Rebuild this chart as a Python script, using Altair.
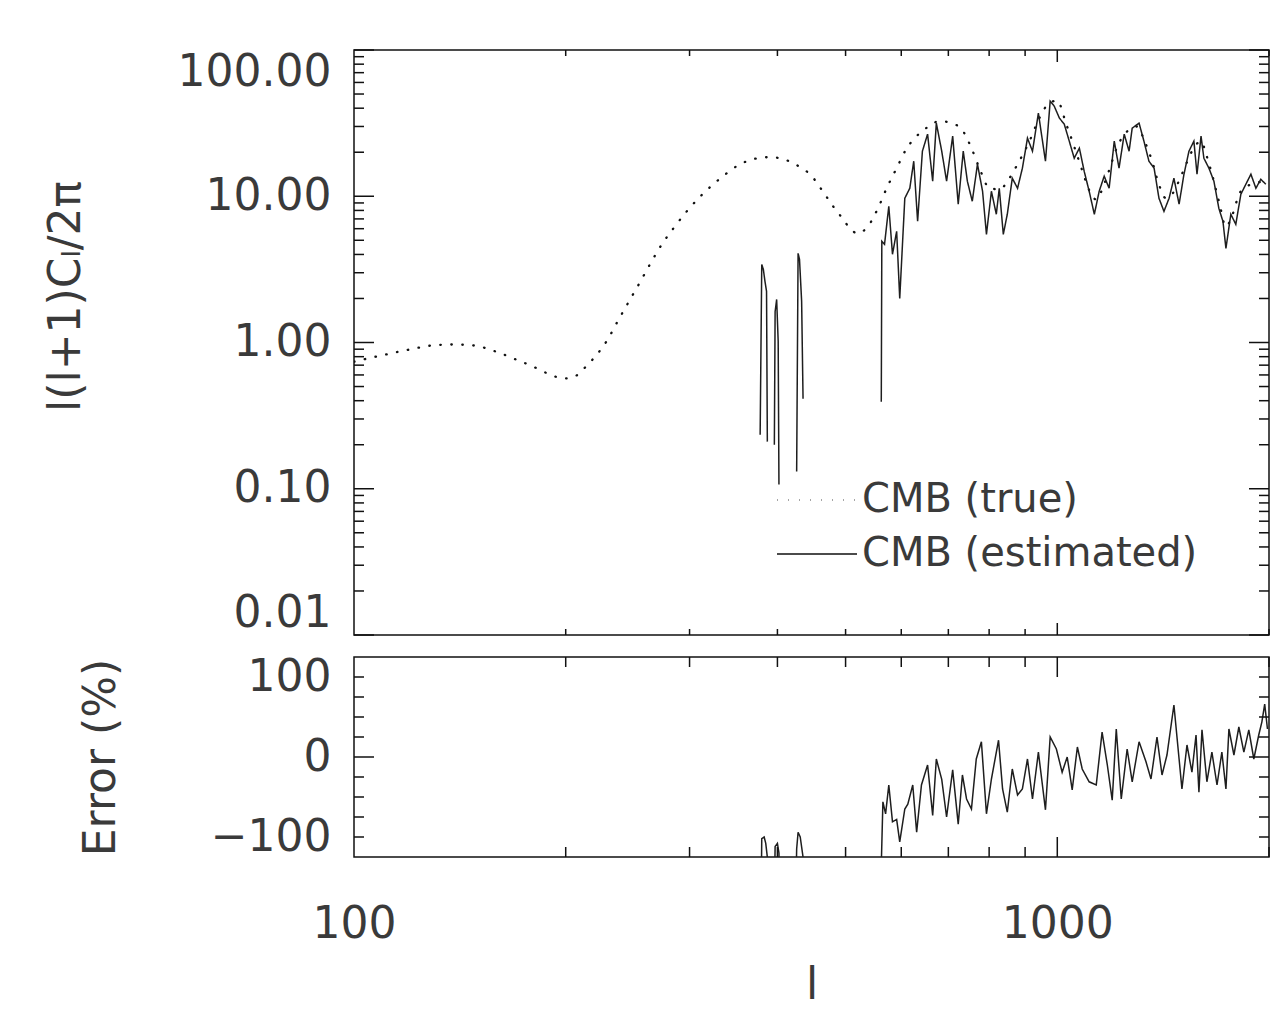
import altair as alt
import pandas as pd

# ---- data ----
TRUE_L = [100, 103, 111, 120, 129, 138, 148, 159, 170, 181, 190, 199, 207, 213, 219, 229, 237, 246,
          255, 264, 274, 286, 299, 314, 332, 352, 375, 390, 403, 431, 445, 464, 480, 496, 507, 520,
          538, 556, 572, 591, 611, 627, 654, 680, 707, 731, 755, 775, 801, 828, 855, 878, 913, 943,
          974, 1000, 1030, 1060, 1085, 1110, 1136, 1165, 1190, 1213, 1250, 1299, 1330, 1364, 1395,
          1427, 1460, 1489, 1520, 1554, 1601, 1630, 1659, 1700, 1736, 1775, 1813, 1850, 1891, 1940, 2000]
TRUE_D = [0.74, 0.765, 0.828, 0.896, 0.954, 0.969, 0.954, 0.868, 0.765, 0.674, 0.604, 0.567, 0.594,
          0.674, 0.777, 1.032, 1.392, 1.909, 2.576, 3.476, 4.691, 6.23, 8.147, 10.48, 13.28, 16.31,
          18.21, 18.5, 18.21, 15.8, 14.15, 10.82, 8.54, 6.96, 6.04, 5.58, 6.23, 8.28, 11.34, 15.55,
          21.32, 24.96, 29.7, 32.64, 31.62, 28.76, 21.32, 15.55, 11.34, 11.16, 13.28, 16.56, 23.81,
          34.21, 43.35, 45.0, 31.0, 21.0, 15.0, 11.0, 9.5, 12.0, 16.0, 21.0, 27.0, 30.0, 24.0, 17.4,
          12.0, 9.7, 10.5, 12.7, 16.0, 20.3, 23.8, 19.0, 14.2, 9.0, 6.2, 7.5, 10.3, 11.5, 12.1, 12.5, 13.0]

# None marks a break (estimate below zero, not drawn on the log axis)
EST_L = [378, 380, 382, 384, 386, 387, None,
         396, 397, 399, 401, 402, None,
         426, 428, 430, 433, 435, None,
         562, 563, 568, 576, 583, 591, 597, 607, 617, 625, 633, 643, 654, 665, 673, 685, 696, 710,
         723, 735, 745, 757, 770, 783, 793, 806, 819, 827, 838, 849, 863, 878, 892, 907, 922, 940,
         962, 977, 990, 1007, 1023, 1040, 1057, 1075, 1092, 1110, 1129, 1147, 1166, 1185, 1205,
         1224, 1245, 1265, 1278, 1307, 1328, 1350, 1373, 1395, 1418, 1442, 1465, 1490, 1514, 1539,
         1564, 1580, 1601, 1616, 1643, 1670, 1697, 1720, 1737, 1765, 1794, 1824, 1854, 1885, 1916,
         1947, 1979]
EST_D = [0.234, 3.42, 3.16, 2.62, 2.24, 0.210, None,
         0.200, 1.63, 1.97, 1.016, 0.107, None,
         0.131, 4.07, 3.70, 1.91, 0.413, None,
         0.394, 4.92, 4.69, 8.54, 4.01, 5.76, 2.00, 9.69, 11.34, 17.36, 6.74, 20.33, 26.59, 12.67,
         31.62, 20.33, 12.67, 25.76, 8.82, 20.33, 12.67, 9.24, 16.56, 10.82, 5.49, 10.82, 7.53,
         11.34, 5.49, 7.53, 13.28, 11.34, 15.55, 24.96, 20.33, 37.03, 17.36, 44.75, 41.35, 34.21,
         31.13, 23.81, 18.21, 21.32, 14.84, 10.82, 7.53, 10.82, 13.71, 11.34, 23.81, 15.55, 26.59,
         20.33, 29.23, 31.62, 23.81, 17.36, 15.55, 9.69, 7.89, 9.69, 13.28, 8.82, 14.15, 20.33,
         23.81, 14.15, 25.76, 18.21, 15.55, 12.67, 8.28, 6.74, 4.40, 7.53, 6.43, 10.32, 12.08,
         14.15, 11.34, 13.07, 12.08]

ERR_L = [370, 378, 380, 383, 385, 387, 390, 394, 397, 400, 402, 405, 422, 426, 428, 431, 435, 440,
         555, 562, 565, 570, 576, 583, 591, 597, 607, 613, 623, 631, 641, 654, 665, 673, 685, 696,
         710, 723, 733, 743, 755, 767, 780, 793, 806, 825, 836, 849, 863, 878, 892, 907, 922, 940,
         962, 977, 997, 1016, 1033, 1050, 1068, 1085, 1110, 1136, 1158, 1178, 1197, 1213, 1233,
         1257, 1278, 1307, 1337, 1359, 1386, 1409, 1432, 1465, 1490, 1504, 1529, 1554, 1575, 1590,
         1606, 1632, 1659, 1687, 1714, 1737, 1754, 1783, 1812, 1842, 1872, 1903, 1934, 1954, 1972, 1990]
ERR_V = [-300, -300, -102, -100, -108, -125, -300, -300, -112, -108, -120, -300, -300, -115, -94,
         -100, -125, -300, -300, -135, -56, -71, -35, -81, -78, -106, -65, -59, -35, -94, -35, -10,
         -73, -2.5, -28, -75, -16, -84, -22.5, -52.5, -65, -2.5, 19, -71, -27.5, 21, -40, -69, -15,
         -47.5, -40, -2.5, -52.5, 6, -66, 25, 10, -19, 0, -41, 12.5, -15, -31, -35, 31, -10, -54,
         35, -52.5, 10, -31, 19, -6, -27.5, 25, -22.5, 2.5, 65, -2.5, -40, 15, -19, 27.5, -44, 34,
         -31, 6, -35, 6, -40, 35, 2.5, 37.5, 6, 34, -2.5, 27.5, 44, 66, 35]

SERIES = ["CMB (true)", "CMB (estimated)"]

# tick positions
X_MINOR = [200, 300, 400, 500, 600, 700, 800, 900, 2000]
X_MAJOR = [1000]
Y1_MAJOR = [0.01, 0.1, 1, 10, 100]
Y1_MINOR = [m * d for d in [0.01, 0.1, 1, 10] for m in [2, 3, 4, 5, 6, 7, 8, 9]]
Y2_MAJOR = [0]
Y2_MINOR = [-100, -75, -50, -25, 25, 50, 75, 100]

# ---- build tables ----
def segmented(ls, ds, name):
    rows, seg = [], 0
    for l, d in zip(ls, ds):
        if l is None or d is None:
            seg += 1
            continue
        rows.append({"l": l, "D": d, "seg": seg, "series": name})
    return pd.DataFrame(rows)

true_df = pd.DataFrame({"l": TRUE_L, "D": TRUE_D, "series": SERIES[0]})
est_df = segmented(EST_L, EST_D, SERIES[1])
err_df = pd.DataFrame({"l": ERR_L, "E": ERR_V})

W, H1, H2 = 915, 585, 200
FONT = "DejaVu Sans"
TXT = "#3a3a3a"
INK = "#111111"
LINE = "#1e1e1e"

XS = alt.Scale(type="log", domain=[100, 2000], nice=False)
YS1 = alt.Scale(type="log", domain=[0.01, 100], nice=False)
YS2 = alt.Scale(type="linear", domain=[-125, 125], nice=False, zero=False)

common_axis = dict(ticks=False, domain=False, grid=False, labelFont=FONT, labelFontSize=44,
                   labelColor=TXT, labelOverlap=False,
                   titleFont=FONT, titleFontSize=44, titleColor=TXT, titleFontWeight="normal")

AX_Y1 = alt.Axis(values=Y1_MAJOR, format=".2f", labelPadding=23, labelFlush=True,
                 title="l(l+1)Cₗ/2π",
                 titleX=-288, titleY=246, titleBaseline="middle", titleAlign="center",
                 titleAngle=270, **common_axis)
AX_Y2 = alt.Axis(values=[-100, 0, 100], format="d", labelPadding=23, labelFlush=True,
                 title="Error (%)",
                 titleX=-253, titleY=100, titleBaseline="middle", titleAlign="center",
                 titleAngle=270, **common_axis)
AX_X2 = alt.Axis(values=[100, 1000], format="d", labelPadding=45, labelFlush=False, title="l",
                 titlePadding=17, **common_axis)

# legend: an 80px line sample drawn with a custom path on a 40px nominal symbol
dash = alt.StrokeDash(
    "series:N",
    scale=alt.Scale(domain=SERIES, range=[[0.5, 10.5], [1, 0]]),
    legend=alt.Legend(title=None, orient="none", legendX=442, legendY=429,
                      symbolType="M-2,0H2", symbolSize=1600, symbolStrokeWidth=1.6,
                      symbolStrokeColor=INK, symbolFillColor="transparent",
                      labelFont=FONT, labelFontSize=40,
                      labelColor=TXT, labelOffset=24, rowPadding=13,
                      padding=0, labelLimit=600),
)


def ticks(values, field, scale, axis, side, length, width, height):
    df = pd.DataFrame({field: values})
    m = alt.Chart(df).mark_rule(color=INK, strokeWidth=1.5)
    if side in ("top", "bottom"):
        x = alt.X(f"{field}:Q", scale=scale, axis=axis)
        if side == "top":
            return m.encode(x=x, y=alt.value(0), y2=alt.value(length))
        return m.encode(x=x, y=alt.value(height), y2=alt.value(height - length))
    y = alt.Y(f"{field}:Q", scale=scale, axis=axis)
    if side == "left":
        return m.encode(y=y, x=alt.value(0), x2=alt.value(length))
    return m.encode(y=y, x=alt.value(width), x2=alt.value(width - length))


# ---- top panel ----
xe_top = alt.X("l:Q", scale=XS, axis=None)
ye_top = alt.Y("D:Q", scale=YS1, axis=AX_Y1)

true_line = alt.Chart(true_df).mark_line(
    color=INK, strokeWidth=2.3, strokeCap="round", interpolate="monotone", clip=True
).encode(x=xe_top, y=ye_top, strokeDash=dash)

est_line = alt.Chart(est_df).mark_line(color=LINE, strokeWidth=1.5, clip=True).encode(
    x=xe_top, y=ye_top, strokeDash=dash, detail="seg:N"
)

top_ticks = [
    ticks(X_MINOR, "l", XS, None, "top", 6, W, H1),
    ticks(X_MAJOR, "l", XS, None, "top", 12, W, H1),
    ticks(X_MINOR, "l", XS, None, "bottom", 6, W, H1),
    ticks(X_MAJOR, "l", XS, None, "bottom", 12, W, H1),
    ticks(Y1_MINOR, "D", YS1, AX_Y1, "left", 10, W, H1),
    ticks(Y1_MAJOR, "D", YS1, AX_Y1, "left", 20, W, H1),
    ticks(Y1_MINOR, "D", YS1, AX_Y1, "right", 10, W, H1),
    ticks(Y1_MAJOR, "D", YS1, AX_Y1, "right", 20, W, H1),
]

top = alt.layer(true_line, est_line, *top_ticks).properties(width=W, height=H1)

# ---- bottom panel ----
xe_bot = alt.X("l:Q", scale=XS, axis=AX_X2)
ye_bot = alt.Y("E:Q", scale=YS2, axis=AX_Y2)

err_line = alt.Chart(err_df).mark_line(color=LINE, strokeWidth=1.5, clip=True).encode(
    x=xe_bot, y=ye_bot
)

bot_ticks = [
    ticks(X_MINOR, "l", XS, AX_X2, "top", 10, W, H2),
    ticks(X_MAJOR, "l", XS, AX_X2, "top", 20, W, H2),
    ticks(X_MINOR, "l", XS, AX_X2, "bottom", 10, W, H2),
    ticks(X_MAJOR, "l", XS, AX_X2, "bottom", 20, W, H2),
    ticks(Y2_MINOR, "E", YS2, AX_Y2, "left", 10, W, H2),
    ticks(Y2_MAJOR, "E", YS2, AX_Y2, "left", 20, W, H2),
    ticks(Y2_MINOR, "E", YS2, AX_Y2, "right", 10, W, H2),
    ticks(Y2_MAJOR, "E", YS2, AX_Y2, "right", 20, W, H2),
]

bottom = alt.layer(err_line, *bot_ticks).properties(width=W, height=H2)

chart = (
    alt.vconcat(top, bottom, spacing=22, bounds="flush")
    .properties(padding={"left": 35, "top": 40, "right": 5, "bottom": 5}, background="white")
    .configure_view(stroke=INK, strokeWidth=1.5)
)

chart.save("out.html", embed_options={"renderer": "svg", "actions": False})
